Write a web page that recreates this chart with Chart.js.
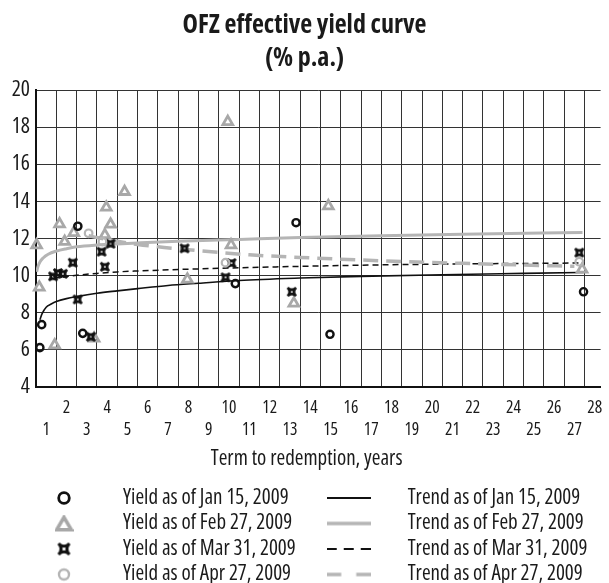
<!DOCTYPE html>
<html>
<head>
<meta charset="utf-8">
<script src="https://cdn.jsdelivr.net/npm/chart.js@4.4.1/dist/chart.umd.min.js"></script>
<style>
html,body{margin:0;padding:0;background:#fff;overflow:hidden;width:609px;height:583px}
#main{position:absolute;left:0;top:0}
#leg{position:absolute;left:0;top:483px}
</style>
</head>
<body>
<canvas id="main" width="609" height="480"></canvas>
<canvas id="leg" width="609" height="120"></canvas>
<script>
// ---------------- DATA ----------------
const titleLines = ['OFZ effective yield curve', '(% p.a.)'];
const xAxisTitle = 'Term to redemption, years';
const xTickLabels = ['1','2','3','4','5','6','7','8','9','10','11','12','13','14','15','16','17','18','19','20','21','22','23','24','25','26','27','28'];
const yTickValues = [4, 6, 8, 10, 12, 14, 16, 18, 20];
const termAxisMax = 27.79;

const yieldNames = ['Yield as of Jan 15, 2009', 'Yield as of Feb 27, 2009', 'Yield as of Mar 31, 2009', 'Yield as of Apr 27, 2009'];
const trendNames = ['Trend as of Jan 15, 2009', 'Trend as of Feb 27, 2009', 'Trend as of Mar 31, 2009', 'Trend as of Apr 27, 2009'];

// Yields (term in years, % p.a.)
const janTerm  = [0.19, 0.28, 2.06, 2.30, 9.81, 12.80, 14.47, 26.95];
const janYield = [6.12, 7.36, 12.66, 6.89, 9.57, 12.85, 6.84, 9.13];

const febTerm  = [0.03, 0.16, 0.92, 1.16, 1.41, 1.86, 2.86, 3.39, 3.46, 3.67, 4.36, 7.45, 9.44, 9.60, 12.69, 14.39, 26.88];
const febYield = [11.65, 9.37, 6.26, 12.78, 11.83, 12.31, 6.62, 12.19, 13.68, 12.76, 14.52, 9.80, 18.29, 11.65, 8.51, 13.75, 10.34];

const marTerm  = [0.84, 1.08, 1.32, 1.81, 2.05, 2.70, 3.23, 3.39, 3.67, 7.31, 9.33, 9.62, 12.59, 26.74];
const marYield = [9.96, 10.14, 10.10, 10.70, 8.72, 6.71, 11.29, 10.48, 11.72, 11.47, 9.91, 10.68, 9.13, 11.24];

const aprTerm  = [2.59, 3.27, 9.33, 26.74];
const aprYield = [12.28, 11.83, 10.70, 10.75];

// Trend curves
const janTrendTerm  = [0.19, 0.3, 0.5, 0.75, 1, 1.5, 2, 3, 4, 5, 6.5, 8, 10, 13, 16, 20, 24, 26.95];
const janTrendYield = [7.62, 7.95, 8.30, 8.47, 8.60, 8.76, 8.87, 9.05, 9.18, 9.30, 9.47, 9.59, 9.74, 9.87, 9.96, 10.05, 10.12, 10.17];

const febTrendTerm  = [0.03, 0.1, 0.2, 0.35, 0.6, 1, 1.5, 2, 3, 4, 5, 7, 10, 13, 17, 21, 26.9];
const febTrendYield = [10.20, 10.50, 10.75, 10.95, 11.15, 11.32, 11.45, 11.55, 11.65, 11.71, 11.76, 11.85, 11.95, 12.05, 12.15, 12.23, 12.32];

const marTrendTerm  = [0.84, 1, 1.5, 2, 3, 4, 5, 7, 10, 13, 17, 21, 26.9];
const marTrendYield = [9.82, 9.87, 9.95, 10.02, 10.12, 10.20, 10.25, 10.33, 10.42, 10.50, 10.58, 10.63, 10.68];

const aprTrendTerm  = [2.59, 3, 4, 5, 6, 7.5, 9, 10.5, 13, 17, 21, 26.5];
const aprTrendYield = [12.15, 12.05, 11.85, 11.68, 11.55, 11.40, 11.25, 11.12, 10.98, 10.80, 10.66, 10.50];

// ---------------- STYLE ----------------
const FONT = "'Open Sans', 'Noto Sans', sans-serif";
const INK = '#1a1a1a';
const BLACK = '#111111';
const GRAY = '#a8a8a8';
const LIGHT = '#b5b5b5';
const GRID = '#333333';

Chart.defaults.font.family = FONT;
Chart.defaults.font.weight = 'condensed';   // font-stretch keyword in the canvas font shorthand
Chart.defaults.color = INK;

const pts = (xs, ys) => xs.map((x, i) => ({x: x, y: ys[i]}));

function makeCanvas(w, h, draw) {
  const c = document.createElement('canvas');
  c.width = w; c.height = h;
  draw(c.getContext('2d'), w, h);
  return c;
}
function starImg(size, lw) {
  return makeCanvas(size, size, (g, w) => {
    const a = lw / 2 + 0.5, b = w - a, m = w / 2, d = (b - a) * 0.5;
    g.beginPath();
    g.moveTo(a, a);
    g.quadraticCurveTo(m, a + d, b, a);
    g.quadraticCurveTo(b - d, m, b, b);
    g.quadraticCurveTo(m, b - d, a, b);
    g.quadraticCurveTo(a + d, m, a, a);
    g.closePath();
    g.lineWidth = lw; g.lineJoin = 'miter'; g.strokeStyle = BLACK; g.stroke();
  });
}
function circleImg(size, r, lw, color) {
  return makeCanvas(size, size, (g, w) => {
    g.beginPath(); g.arc(w / 2, w / 2, r, 0, Math.PI * 2);
    g.lineWidth = lw; g.strokeStyle = color; g.stroke();
  });
}
function triangleImg(w, h, lw, color) {
  return makeCanvas(w, h, (g) => {
    const p = lw / 2 + 0.5;
    g.beginPath(); g.moveTo(w / 2, p); g.lineTo(w - p, h - p); g.lineTo(p, h - p); g.closePath();
    g.lineWidth = lw; g.lineJoin = 'miter'; g.strokeStyle = color; g.stroke();
  });
}
function lineImg(w, lw, color, dash) {
  return makeCanvas(w, 8, (g) => {
    g.setLineDash(dash); g.beginPath(); g.moveTo(0, 4); g.lineTo(w, 4);
    g.lineWidth = lw; g.strokeStyle = color; g.stroke();
  });
}

const starPlot = starImg(12, 2.6);

const pointBase = {showLine: false, clip: false, pointBackgroundColor: 'rgba(0,0,0,0)'};
const trendBase = {showLine: true, fill: false, pointRadius: 0, cubicInterpolationMode: 'monotone'};

const datasets = [
  Object.assign({}, pointBase, {label: yieldNames[0], data: pts(janTerm, janYield), pointStyle: 'circle', pointRadius: 3.6, pointBorderWidth: 2.4, pointBorderColor: BLACK, order: 3}),
  Object.assign({}, pointBase, {label: yieldNames[1], data: pts(febTerm, febYield), pointStyle: 'triangle', pointRadius: 5.6, pointBorderWidth: 2.8, pointBorderColor: GRAY, order: 4}),
  Object.assign({}, pointBase, {label: yieldNames[2], data: pts(marTerm, marYield), pointStyle: starPlot, pointRadius: 6, order: 2}),
  Object.assign({}, pointBase, {label: yieldNames[3], data: pts(aprTerm, aprYield), pointStyle: 'circle', pointRadius: 3.8, pointBorderWidth: 2.2, pointBorderColor: LIGHT, order: 1}),
  Object.assign({}, trendBase, {label: trendNames[0], data: pts(janTrendTerm, janTrendYield), borderColor: BLACK, borderWidth: 1.6, order: 8}),
  Object.assign({}, trendBase, {label: trendNames[1], data: pts(febTrendTerm, febTrendYield), borderColor: LIGHT, borderWidth: 3, order: 7}),
  Object.assign({}, trendBase, {label: trendNames[2], data: pts(marTrendTerm, marTrendYield), borderColor: BLACK, borderWidth: 1.5, borderDash: [6, 4], order: 6}),
  Object.assign({}, trendBase, {label: trendNames[3], data: pts(aprTrendTerm, aprTrendYield), borderColor: LIGHT, borderWidth: 3.5, borderDash: [15, 8], order: 5})
];

new Chart(document.getElementById('main'), {
  type: 'scatter',
  data: {datasets: datasets},
  options: {
    responsive: false,
    animation: false,
    events: [],
    layout: {padding: {left: 0, right: 0, top: 0, bottom: 8.8}},
    plugins: {
      legend: {display: false},
      tooltip: {enabled: false},
      title: {
        display: true,
        text: titleLines,
        color: INK,
        font: {size: 26, weight: 'bold condensed', lineHeight: 33 / 26},
        padding: {top: 9, bottom: 15}
      }
    },
    scales: {
      x: {
        type: 'linear',
        min: 0,
        max: termAxisMax,
        afterBuildTicks: (s) => { s.ticks = xTickLabels.map((l, i) => ({value: i + 0.5})); },
        afterFit: (s) => { s.paddingLeft = 0; s.paddingRight = 0; },
        grid: {offset: true, color: GRID, lineWidth: 1, drawTicks: false},
        border: {display: true, color: BLACK, width: 2},
        ticks: {
          autoSkip: false, maxRotation: 0, minRotation: 0, padding: 10, color: INK,
          font: {size: 17.5, lineHeight: 22 / 17.5},
          callback: (v, i) => (i % 2 === 1) ? [xTickLabels[i], ''] : ['', xTickLabels[i]]
        },
        title: {display: true, text: xAxisTitle + '\u00a0\u00a0\u00a0\u00a0\u00a0\u00a0', color: INK, font: {size: 21, lineHeight: 1.2}, padding: {top: -5, bottom: 0}}
      },
      y: {
        type: 'linear',
        min: yTickValues[0],
        max: yTickValues[yTickValues.length - 1],
        afterBuildTicks: (s) => { s.ticks = yTickValues.map(v => ({value: v})); },
        afterFit: (s) => { s.width = 36; },
        grid: {color: GRID, lineWidth: 1, drawTicks: false},
        border: {display: true, color: BLACK, width: 2},
        ticks: {padding: 6, color: INK, font: {size: 21.5}}
      }
    }
  }
});

// ---------------- LEGEND ----------------
const legendSymbols = [
  circleImg(16, 5.3, 2.8, BLACK),
  triangleImg(19, 17, 3.6, GRAY),
  starImg(15, 3),
  circleImg(16, 5.0, 2.4, LIGHT),
  lineImg(44, 2, BLACK, []),
  lineImg(44, 3.5, LIGHT, []),
  lineImg(44, 2, BLACK, [10, 7]),
  lineImg(44, 3.5, LIGHT, [14.5, 15])
];
const legendTexts = yieldNames.concat(trendNames);

new Chart(document.getElementById('leg'), {
  type: 'scatter',
  data: {datasets: []},
  options: {
    responsive: false,
    animation: false,
    events: [],
    layout: {padding: {left: 11, top: 0, right: 0, bottom: 0}},
    scales: {x: {display: false}, y: {display: false}},
    plugins: {
      title: {display: false},
      tooltip: {enabled: false},
      legend: {
        display: true,
        position: 'left',
        align: 'start',
        maxWidth: 609,
        labels: {
          usePointStyle: true,
          pointStyleWidth: 97,
          padding: 4.5,
          color: INK,
          font: {size: 21},
          generateLabels: () => legendTexts.map((t, i) => ({
            text: t,
            pointStyle: legendSymbols[i],
            fillStyle: 'rgba(0,0,0,0)',
            strokeStyle: 'rgba(0,0,0,0)',
            lineWidth: 0,
            fontColor: INK,
            hidden: false,
            datasetIndex: i
          }))
        }
      }
    }
  }
});
</script>
</body>
</html>
